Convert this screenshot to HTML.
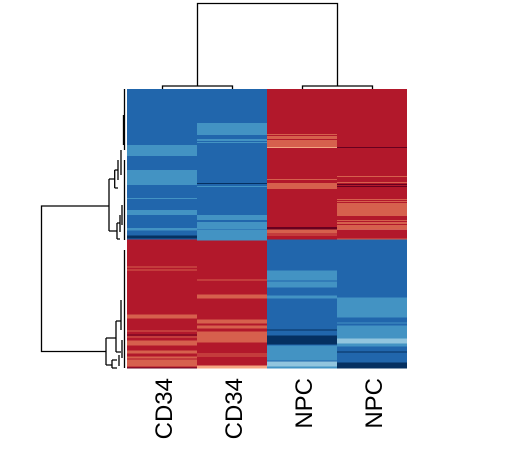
<!DOCTYPE html>
<html><head><meta charset="utf-8"><style>
html,body{margin:0;padding:0;background:#fff;}
svg{display:block;}
</style></head><body>
<svg id="chart" width="525" height="449" xmlns="http://www.w3.org/2000/svg">
<g id="cells"></g>
<g id="coldendro" stroke="#000" stroke-width="1.3" fill="none"></g>
<g id="rowdendro" stroke="#000" stroke-width="1.3" fill="none"></g>
<g id="labels"></g>
</svg>
<script>
const columns = ["CD34","CD34","NPC","NPC"];
const nRows = 280;
const splitRow = 151;
const topDefaults = [-2,-2,2,2];
const bottomDefaults = [2,2,-2,-2];
// segments: [startRow, endRow (inclusive), value]
const col1Segments = [[56,60,-1],[61,66,-1],[81,95,-1],[109,109,-1],[121,124,-1],[125,125,-1],[139,141,-1],[147,148,-3],[149,149,-3],
 [178,178,1],[181,181,1],[226,229,1],[242,242,1],[246,246,3],[248,248,1],[252,253,1],[254,256,1],[262,264,1],[268,269,1],[271,277,1],[279,280,3]];
const col2Segments = [[34,45,-1],[50,51,-1],[53,53,-1],[94,94,-3],[97,97,-1],[126,130,-1],[133,139,-1],[141,151,-1],
 [191,191,1],[206,209,1],[231,234,1],[237,239,1],[243,247,1],[248,252,1],[253,253,1],[265,265,1],[267,267,1],[277,280,0.5]];
const col3Segments = [[45,45,1],[47,49,1],[51,57,1],[58,58,0.5],[90,90,1],[94,99,1],[138,141,3],[141,144,1],[146,146,1],
 [182,190,-1],[191,191,-1],[193,198,-1],[207,209,-1],[241,241,-3],[247,255,-3],[257,268,-1],[269,271,-1],[273,278,-0.5],[278,280,-1]];
const col4Segments = [[58,58,3],[87,87,1],[93,93,1],[95,95,3],[97,97,3],[110,110,1],[112,112,1],[114,126,1],[131,131,1],[133,134,1],[136,140,1],[140,140,0.5],[150,150,1],
 [209,223,-1],[224,228,-1],[234,234,-1],[237,246,-1],[247,250,-1],[250,255,-0.5],[255,257,-1],[263,263,-3],[274,280,-3]];
const allSegments = [col1Segments,col2Segments,col3Segments,col4Segments];

const X0=127, Y0=89, CW=70, RH=(368.5-89)/nRows;
const xPos = i => X0 + i*CW;
const yPos = r => Y0 + r*RH;
function colorOf(v){
  const m={"3":"#67001F","2":"#B2182B","1":"#D6604D","0.5":"#F4A582","-0.5":"#92C5DE","-1":"#4393C3","-2":"#2166AC","-3":"#053061"};
  return m[String(v)]||"#ffffff";
}
const NS="http://www.w3.org/2000/svg";
const cells=document.getElementById('cells');
function rect(x,y,w,h,fill,name){
  const el=document.createElementNS(NS,'rect');
  el.setAttribute('x',x);el.setAttribute('y',y);el.setAttribute('width',w);el.setAttribute('height',h);
  el.setAttribute('fill',fill);el.setAttribute('shape-rendering','crispEdges');
  
  
  cells.appendChild(el);
}
columns.forEach((c,i)=>{
  rect(xPos(i),yPos(0),CW,yPos(splitRow)-yPos(0),colorOf(topDefaults[i]),'cell-block-top');
  rect(xPos(i),yPos(splitRow),CW,yPos(nRows)-yPos(splitRow),colorOf(bottomDefaults[i]),'cell-block-bottom');
  allSegments[i].forEach(s=>{
    const e=Math.min(s[1]+1,nRows);
    rect(xPos(i),yPos(s[0]),CW,yPos(e)-yPos(s[0]),colorOf(s[2]),'cell-band');
  });
  const t=document.createElementNS(NS,'text');
  const cx=xPos(i)+CW/2+10;
  t.setAttribute('x',cx);t.setAttribute('y',378);
  t.setAttribute('transform','rotate(-90 '+cx+' 378)');
  t.setAttribute('text-anchor','end');
  t.setAttribute('font-family','Liberation Sans, Arial, sans-serif');
  t.setAttribute('font-size','24');
  t.textContent=c;
  
  
  document.getElementById('labels').appendChild(t);
});
function path(g,d,name){
  const p=document.createElementNS(NS,'path');
  p.setAttribute('d',d);
  
  
  document.getElementById(g).appendChild(p);
}
// column dendrogram
path('coldendro','M162.5 89 V86 H232.5 V89','col-branch-cd34');
path('coldendro','M302.5 89 V86 H372.5 V89','col-branch-npc');
path('coldendro','M197.5 86 V3.5 H337.5 V86','col-branch-root');
// row dendrogram
path('rowdendro','M109 206 H41.5 V351.5 H106','row-branch-root');
path('rowdendro','M109 179 V231','row-branch-top');
path('rowdendro','M114.7 179 H109 M117 231 H109','row-branch-top-arms');
path('rowdendro','M114.7 170 V188 M118 170 H114.7 M118 188 H114.7','row-sub-top1');
path('rowdendro','M117 223 V239 M120 223 H117 M120 239 H117','row-sub-top2');
path('rowdendro','M106 338 V365','row-branch-bottom');
path('rowdendro','M116 338 H106 M112 365 H106','row-branch-bottom-arms');
path('rowdendro','M116 321 V352 M121 321 H116 M121 352 H116','row-sub-bottom1');
path('rowdendro','M112 360 V368 M117 360 H112 M117 368 H112','row-sub-bottom2');
path('rowdendro','M118 160 V180 M121 150 V175 M120 215 V232 M122 205 V225 M121 300 V330 M122 340 V358 M119 355 V366','row-leaves-mid');
path('rowdendro','M124.5 89 V150 M123.5 115 V145 M124.5 160 V240 M124.5 250 V368','row-leaf-edge');
</script>
</body></html>
